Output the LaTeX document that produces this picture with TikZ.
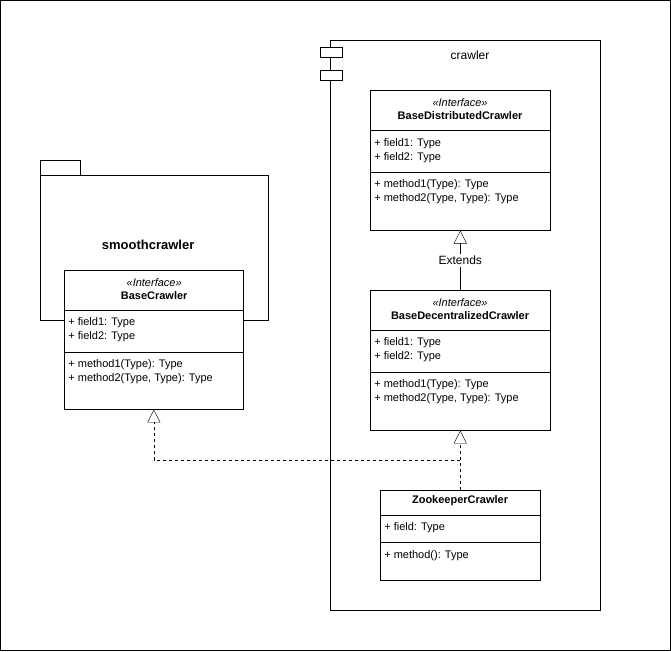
\documentclass[tikz,border=0pt]{standalone}
\usepackage{fontspec}
\setmainfont{Liberation Sans}
\usetikzlibrary{arrows.meta,positioning}
\tikzset{
    box/.style={
           rectangle,
           draw=black, thin,
           fill=white,
           inner sep=0pt,
           anchor=north west,
           },
    txt/.style={inner sep=0pt, anchor=west, font=\fontsize{11}{13}\selectfont},
    hdr/.style={inner sep=0pt, font=\fontsize{11}{13}\selectfont},
    inherit/.style={-{Triangle[open,length=13pt,width=13pt]}},
}
\begin{document}
\begin{tikzpicture}[x=1pt,y=-1pt,thin]
  \draw (0,0) rectangle (670,650);
  \useasboundingbox (0,0) rectangle (671,651);

  % smoothcrawler package
  \draw (40,160) rectangle (80,175);
  \node[box, minimum width=228, minimum height=145] (smooth) at (40,175) {};
  \node[hdr, font=\fontsize{13}{15}\selectfont\bfseries] (smoothlbl) at (148,245) {smoothcrawler};

  % crawler component
  \node[box, minimum width=270, minimum height=570] (crawler) at (330,40) {};
  \draw[fill=white] (320,47) rectangle (342,57);
  \draw[fill=white] (320,70) rectangle (342,80);
  \node[hdr, font=\fontsize{12}{14}\selectfont] (crawlerlbl) at (470,55) {crawler};

  % BaseCrawler
  \node[box, minimum width=179, minimum height=139] (bc) at (64,270) {};
  \node[hdr] at (154,282) {\itshape <<Interface>>};
  \node[hdr] at (154,295) {\bfseries BaseCrawler};
  \draw (64,310) -- (243,310);
  \node[txt] at (68,323) {+ field1: Type};
  \node[txt] at (68,337) {+ field2: Type};
  \draw (64,352) -- (243,352);
  \node[txt] at (68,365) {+ method1(Type): Type};
  \node[txt] at (68,379) {+ method2(Type, Type): Type};

  % BaseDistributedCrawler
  \node[box, minimum width=180, minimum height=140] (bdist) at (370,90) {};
  \node[hdr] at (460,102) {\itshape <<Interface>>};
  \node[hdr] at (460,115) {\bfseries BaseDistributedCrawler};
  \draw (370,130) -- (550,130);
  \node[txt] at (374,143) {+ field1: Type};
  \node[txt] at (374,157) {+ field2: Type};
  \draw (370,172) -- (550,172);
  \node[txt] at (374,185) {+ method1(Type): Type};
  \node[txt] at (374,199) {+ method2(Type, Type): Type};

  % BaseDecentralizedCrawler
  \node[box, minimum width=180, minimum height=140] (bdec) at (370,290) {};
  \node[hdr] at (460,302) {\itshape <<Interface>>};
  \node[hdr] at (460,315) {\bfseries BaseDecentralizedCrawler};
  \draw (370,330) -- (550,330);
  \node[txt] at (374,343) {+ field1: Type};
  \node[txt] at (374,357) {+ field2: Type};
  \draw (370,372) -- (550,372);
  \node[txt] at (374,385) {+ method1(Type): Type};
  \node[txt] at (374,399) {+ method2(Type, Type): Type};

  % ZookeeperCrawler
  \node[box, minimum width=160, minimum height=90] (zk) at (380,490) {};
  \node[hdr] at (460,501) {\bfseries ZookeeperCrawler};
  \draw (380,515) -- (540,515);
  \node[txt] at (384,528) {+ field: Type};
  \draw (380,542) -- (540,542);
  \node[txt] at (384,556) {+ method(): Type};

  % connectors
  \coordinate (split) at (460,460);
  \draw[inherit] (bdec.north) -- node[fill=white, hdr, font=\fontsize{12}{14}\selectfont, inner sep=2pt] {Extends} (bdist.south);
  \draw[dashed, inherit] (zk.north) -- (bdec.south);
  \draw[dashed, inherit] (split) -| (bc.south);
\end{tikzpicture}
\end{document}
